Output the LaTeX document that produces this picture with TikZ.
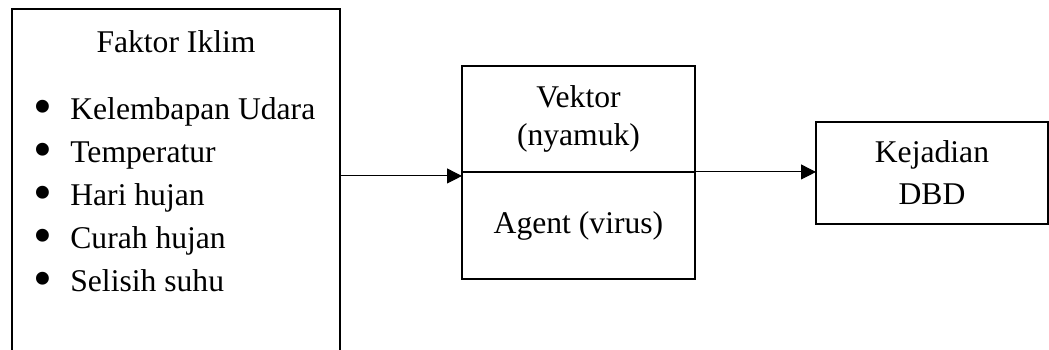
\documentclass[tikz,border=0pt]{standalone}
\usepackage{fontspec}
\setmainfont{Liberation Serif}
\usetikzlibrary{positioning, arrows.meta}

\newcommand{\butir}{\makebox[0.74cm][l]{\raisebox{-0.17em}{\scalebox{1.7}{\textbullet}}}}

\begin{document}
\begin{tikzpicture}[x=0.02cm, y=-0.02cm,
  kotak/.style={draw, rectangle, line width=1.1pt, inner sep=0pt, outer sep=0pt},
  panah/.style={-{Triangle[length=0.3cm, width=0.3cm]}, line width=0.6pt},
  teks/.style={font=\fontsize{18}{24.5}\selectfont}]
  \useasboundingbox (0,0) rectangle (1049,350);
  \clip (0,0) rectangle (1049,350);

  % Kotak faktor iklim
  \node[kotak, anchor=north west, minimum width=6.56cm, minimum height=8cm] (iklim) at (12,9) {};
  \node[teks] (judul) at (176,42) {Faktor Iklim};
  \node[teks, align=left, anchor=north west, inner sep=0pt] (daftar) at (33,97) {%
    \butir Kelembapan Udara\\
    \butir Temperatur\\
    \butir Hari hujan\\
    \butir Curah hujan\\
    \butir Selisih suhu};

  % Vektor dan agent
  \node[kotak, align=center, anchor=north west, minimum width=4.66cm, minimum height=2.12cm,
        font=\fontsize{18}{21.6}\selectfont] (vektor) at (462,66) {Vektor\\(nyamuk)};
  \node[kotak, teks, below=0pt of vektor, minimum width=4.66cm, minimum height=2.14cm] (agent) {Agent (virus)};

  % Kejadian
  \node[kotak, align=center, anchor=north west, minimum width=4.64cm, minimum height=2.04cm,
        font=\fontsize{18}{23.9}\selectfont] (kejadian) at (816,122) {Kejadian\\DBD};

  % Panah
  \draw[panah] ([yshift=-0.08cm]iklim.east |- vektor.south) -- ([yshift=-0.08cm]vektor.south west);
  \draw[panah] (vektor.south east) -- (kejadian.west |- vektor.south east);
\end{tikzpicture}
\end{document}
